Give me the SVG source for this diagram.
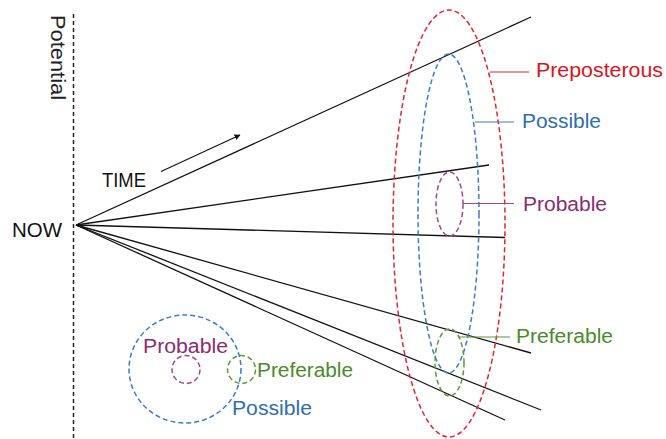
<svg xmlns="http://www.w3.org/2000/svg" width="666" height="439" viewBox="0 0 666 439">
<style>
text{font-family:"Liberation Sans",Arial,sans-serif;font-size:20px}
.fan{stroke:#111;stroke-width:1.3;fill:none}
.dash{fill:none;stroke-width:1.5;stroke-dasharray:5 3}
.red{stroke:#e3242b}.blue{stroke:#3a7dc4}.purple{stroke:#a0488a}.green{stroke:#5a9a3a}
.tred{fill:#d8141c}.tblue{fill:#2e6db3}.tpurple{fill:#8c2a72}.tgreen{fill:#4a8a2c}
</style>
<defs>
<marker id="ah" viewBox="0 0 10 10" refX="9" refY="5" markerWidth="6" markerHeight="6" orient="auto" markerUnits="userSpaceOnUse">
<path d="M0,0 L10,5 L0,10 z" fill="#111"/>
</marker>
</defs>
<rect width="666" height="439" fill="#fff"/>
<g id="axis">
<line x1="73.5" y1="14" x2="73.5" y2="439" stroke="#222" stroke-width="1.5" stroke-dasharray="4 3"/>
<text transform="translate(51,15) rotate(90)" fill="#222" textLength="85" lengthAdjust="spacingAndGlyphs">Potential</text>
</g>
<g id="now"><text x="12" y="237" fill="#111" textLength="50" lengthAdjust="spacingAndGlyphs">NOW</text></g>
<g id="time">
<text x="102" y="187" fill="#111" textLength="44" lengthAdjust="spacingAndGlyphs">TIME</text>
<line x1="161" y1="171.5" x2="240" y2="135" stroke="#111" stroke-width="1.2" marker-end="url(#ah)"/>
</g>
<g id="connectors">
<line class="fan" x1="76" y1="225" x2="531" y2="17"/>
<line class="fan" x1="76" y1="225" x2="489" y2="165"/>
<line class="fan" x1="76" y1="225" x2="505" y2="237.5"/>
<line class="fan" x1="76" y1="225" x2="531" y2="353"/>
<line class="fan" x1="76" y1="225" x2="541" y2="410"/>
<line class="fan" x1="76" y1="225" x2="505" y2="420"/>
</g>
<g id="preposterous">
<ellipse class="dash red" cx="449" cy="223.5" rx="56" ry="213.5"/>
<line x1="490" y1="72" x2="529" y2="72" stroke="#e3242b" stroke-width="1.2"/>
<text class="tred" x="536" y="77" textLength="127" lengthAdjust="spacingAndGlyphs">Preposterous</text>
</g>
<g id="possible">
<ellipse class="dash blue" cx="448.5" cy="213.5" rx="30.5" ry="159.5"/>
<line x1="475" y1="122" x2="514" y2="122" stroke="#3a7dc4" stroke-width="1.2"/>
<text class="tblue" x="522" y="128" textLength="79" lengthAdjust="spacingAndGlyphs">Possible</text>
</g>
<g id="probable">
<ellipse class="dash purple" cx="449.5" cy="204" rx="13.5" ry="32"/>
<line x1="463" y1="203.5" x2="514" y2="203.5" stroke="#a0488a" stroke-width="1.2"/>
<text class="tpurple" x="523" y="211" textLength="84" lengthAdjust="spacingAndGlyphs">Probable</text>
</g>
<g id="preferable">
<ellipse class="dash green" cx="449.5" cy="362.5" rx="14.5" ry="33.5"/>
<line x1="458" y1="337" x2="510" y2="337" stroke="#5a9a3a" stroke-width="1.2"/>
<text class="tgreen" x="516" y="343" textLength="97" lengthAdjust="spacingAndGlyphs">Preferable</text>
</g>
<g id="legend-possible">
<ellipse class="dash blue" cx="185" cy="369" rx="56" ry="54"/>
<text class="tblue" x="232" y="415" textLength="80" lengthAdjust="spacingAndGlyphs">Possible</text>
</g>
<g id="legend-probable">
<circle class="dash purple" cx="186" cy="369.5" r="14"/>
<text class="tpurple" x="143" y="353" textLength="85" lengthAdjust="spacingAndGlyphs">Probable</text>
</g>
<g id="legend-preferable">
<circle class="dash green" cx="241.5" cy="369.5" r="14"/>
<text class="tgreen" x="257" y="377" textLength="96" lengthAdjust="spacingAndGlyphs">Preferable</text>
</g>
</svg>
